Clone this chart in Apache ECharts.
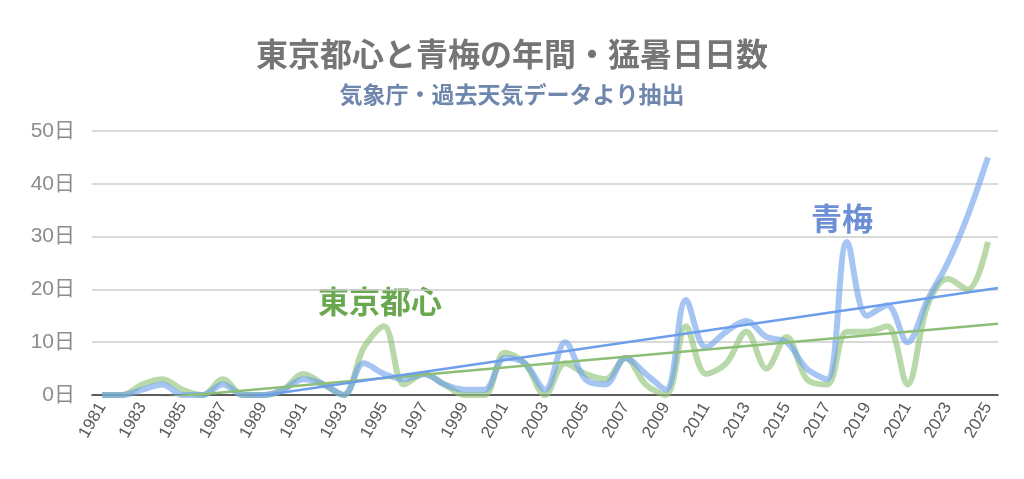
<!DOCTYPE html>
<html>
<head>
<meta charset="utf-8">
<script src="https://cdn.jsdelivr.net/npm/echarts@6/dist/echarts.min.js"></script>
<style>
  html, body { margin: 0; padding: 0; background: #fff; }
  #chart { width: 1024px; height: 479px; }
</style>
</head>
<body>
<div id="chart"></div>
<script>
// Annual count of 猛暑日 (days >= 35°C)
const years = [];
for (let y = 1981; y <= 2025; y++) years.push(String(y));

const tokyo = [0, 0, 2, 3, 1, 0, 3, 0, 0, 1,
               4, 2, 0, 9, 13, 2, 4, 2, 0, 0,
               8, 6, 0, 6, 4, 3, 7, 2, 0, 13,
               4, 6, 12, 5, 11, 3, 2, 12, 12, 13,
               2, 17, 22, 20, 29];

const ome = [0, 0, 1, 2, 0, 0, 2, 0, 0, 1,
             3, 2, 0, 6, 4, 3, 4, 2, 1, 1,
             7, 6, 1, 10, 3, 2, 7, 4, 1, 18,
             9, 12, 14, 11, 10, 5, 3, 29, 15, 17,
             10, 18, 25, 34, 45];

const yTicks = [0, 10, 20, 30, 40, 50];

// least squares trendline, drawn across the whole plot width
function trend(values) {
  const xs = years.map(Number);
  const n = xs.length;
  const mx = xs.reduce((a, b) => a + b, 0) / n;
  const my = values.reduce((a, b) => a + b, 0) / n;
  let sxy = 0, sxx = 0;
  xs.forEach((x, i) => {
    sxy += (x - mx) * (values[i] - my);
    sxx += (x - mx) * (x - mx);
  });
  const b = sxy / sxx;
  const a = my - b * mx;
  const x0 = xs[0] - 0.5, x1 = xs[n - 1] + 0.5;
  return [[x0, a + b * x0], [x1, a + b * x1]];
}

const BLUE = '#6d9eeb';
const GREEN = '#93c47d';
const labelFont = '"Liberation Sans", "Noto Sans CJK JP", sans-serif';
const cjkFont = '"Noto Sans CJK JP", sans-serif';

const chart = echarts.init(document.getElementById('chart'));

chart.setOption({
  animation: false,
  title: [
    {
      text: '東京都心と青梅の年間・猛暑日日数',
      left: 'center',
      top: 33,
      textStyle: { fontFamily: cjkFont, fontSize: 32, fontWeight: 'bold', color: '#757575' }
    },
    {
      text: '気象庁・過去天気データより抽出',
      left: 'center',
      top: 78,
      textStyle: { fontFamily: cjkFont, fontSize: 23, fontWeight: 'bold', color: '#6f87ad' }
    }
  ],
  grid: { left: 92, right: 26, top: 131, bottom: 84 },
  xAxis: [
    {
      type: 'category',
      data: years,
      boundaryGap: true,
      axisLine: { show: true, lineStyle: { color: '#333', width: 1.5 } },
      axisTick: { show: false },
      axisLabel: {
        interval: 1,
        rotate: 60,
        margin: 9,
        fontFamily: labelFont,
        fontSize: 17,
        color: '#5a5a5a'
      },
      splitLine: { show: false }
    },
    {
      type: 'value',
      min: 1980.5,
      max: 2025.5,
      show: false
    }
  ],
  yAxis: {
    type: 'value',
    min: yTicks[0],
    max: yTicks[yTicks.length - 1],
    interval: 10,
    axisLine: { show: false },
    axisTick: { show: false },
    axisLabel: {
      formatter: v => v + '日',
      margin: 17,
      fontFamily: labelFont,
      fontSize: 21,
      color: '#8c8c8c'
    },
    splitLine: { lineStyle: { color: '#cccccc', width: 1.5 } }
  },
  series: [
    {
      name: '東京都心',
      type: 'line',
      data: tokyo,
      smooth: 0.35,
      symbol: 'none',
      clip: true,
      lineStyle: { color: GREEN, width: 6, opacity: 0.65 }
    },
    {
      name: '青梅',
      type: 'line',
      data: ome,
      smooth: 0.35,
      symbol: 'none',
      clip: true,
      lineStyle: { color: BLUE, width: 6, opacity: 0.6 }
    },
    {
      name: '東京都心 trend',
      type: 'line',
      xAxisIndex: 1,
      data: trend(tokyo),
      symbol: 'none',
      clip: true,
      lineStyle: { color: '#8dbe76', width: 2.5 }
    },
    {
      name: '青梅 trend',
      type: 'line',
      xAxisIndex: 1,
      data: trend(ome),
      symbol: 'none',
      clip: true,
      lineStyle: { color: BLUE, width: 2.5 }
    }
  ],
  graphic: [
    {
      type: 'text',
      left: 318,
      top: 286,
      style: { text: '東京都心', fontFamily: cjkFont, fontSize: 31, fontWeight: 'bold', fill: '#6aa84f' }
    },
    {
      type: 'text',
      left: 811,
      top: 203,
      style: { text: '青梅', fontFamily: cjkFont, fontSize: 31, fontWeight: 'bold', fill: '#6d8fd6' }
    }
  ]
});
</script>
</body>
</html>
